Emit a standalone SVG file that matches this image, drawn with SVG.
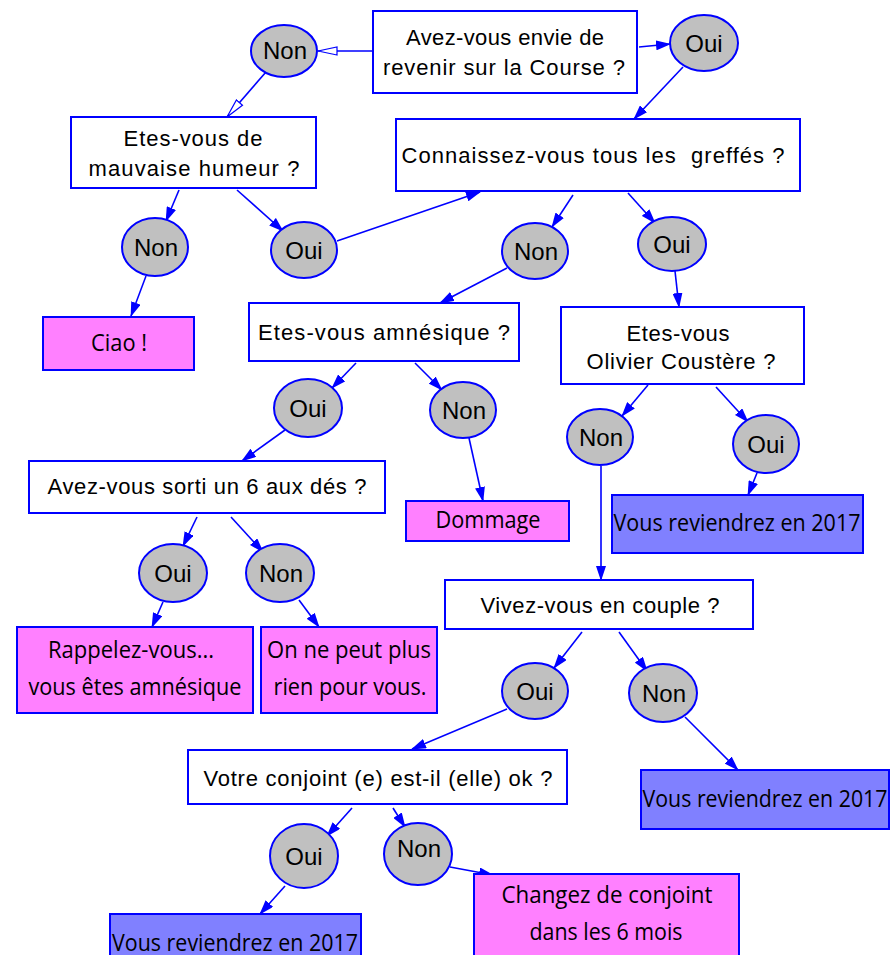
<svg xmlns="http://www.w3.org/2000/svg" width="890" height="955" viewBox="0 0 890 955">
<defs>
<marker id="ah" markerUnits="userSpaceOnUse" markerWidth="15" markerHeight="10" refX="14" refY="5" orient="auto">
<path d="M0,0 L15,5 L0,10 z" fill="#0000FF"/>
</marker>
<marker id="ao" markerUnits="userSpaceOnUse" markerWidth="22" markerHeight="12" refX="20" refY="5" orient="auto">
<path d="M1,1 L20,5 L1,9 z" fill="#FFFFFF" stroke="#0000FF" stroke-width="1.2"/>
</marker>
<style>
.q rect{fill:#FFFFFF;stroke:#0000FF;stroke-width:2}
.p rect{fill:#FF80FF;stroke:#0000FF;stroke-width:2}
.b rect{fill:#8080FF;stroke:#0000FF;stroke-width:2}
ellipse{fill:#C0C0C0;stroke:#0000FF;stroke-width:2}
text{fill:#000000;text-anchor:middle}
.q text,.e text{font-family:"Liberation Sans",Arial,sans-serif;font-size:22px}
.e text{font-size:24px}
.p text,.b text{font-family:"Open Sans","Noto Sans",sans-serif;font-size:23px}
#edges line{stroke:#0000FF;stroke-width:1.6;fill:none}
</style>
</defs>
<rect x="0" y="0" width="890" height="955" fill="#FFFFFF"/>
<g id="edges">
<line x1="373" y1="51" x2="318" y2="51" marker-end="url(#ao)"/>
<line x1="639" y1="47" x2="670" y2="44" marker-end="url(#ah)"/>
<line x1="266" y1="72" x2="227" y2="117" marker-end="url(#ao)"/>
<line x1="683" y1="67" x2="634" y2="119" marker-end="url(#ah)"/>
<line x1="179" y1="190" x2="166" y2="221" marker-end="url(#ah)"/>
<line x1="237" y1="190" x2="283" y2="231" marker-end="url(#ah)"/>
<line x1="337" y1="241" x2="480" y2="192" marker-end="url(#ah)"/>
<line x1="573" y1="195" x2="552" y2="227" marker-end="url(#ah)"/>
<line x1="628" y1="193" x2="655" y2="223" marker-end="url(#ah)"/>
<line x1="146" y1="276" x2="131" y2="316" marker-end="url(#ah)"/>
<line x1="507" y1="268" x2="440" y2="303" marker-end="url(#ah)"/>
<line x1="675" y1="271" x2="679" y2="307" marker-end="url(#ah)"/>
<line x1="356" y1="363" x2="332" y2="388" marker-end="url(#ah)"/>
<line x1="415" y1="363" x2="442" y2="390" marker-end="url(#ah)"/>
<line x1="285" y1="430" x2="242" y2="461" marker-end="url(#ah)"/>
<line x1="469" y1="438" x2="483" y2="501" marker-end="url(#ah)"/>
<line x1="648" y1="385" x2="622" y2="416" marker-end="url(#ah)"/>
<line x1="716" y1="387" x2="748" y2="422" marker-end="url(#ah)"/>
<line x1="757" y1="473" x2="748" y2="495" marker-end="url(#ah)"/>
<line x1="601" y1="466" x2="601" y2="580" marker-end="url(#ah)"/>
<line x1="197" y1="517" x2="183" y2="546" marker-end="url(#ah)"/>
<line x1="231" y1="517" x2="263" y2="552" marker-end="url(#ah)"/>
<line x1="163" y1="602" x2="152" y2="627" marker-end="url(#ah)"/>
<line x1="299" y1="600" x2="319" y2="627" marker-end="url(#ah)"/>
<line x1="582" y1="632" x2="554" y2="668" marker-end="url(#ah)"/>
<line x1="619" y1="632" x2="647" y2="671" marker-end="url(#ah)"/>
<line x1="507" y1="709" x2="412" y2="749" marker-end="url(#ah)"/>
<line x1="685" y1="717" x2="738" y2="770" marker-end="url(#ah)"/>
<line x1="352" y1="808" x2="327" y2="836" marker-end="url(#ah)"/>
<line x1="393" y1="808" x2="405" y2="827" marker-end="url(#ah)"/>
<line x1="285" y1="886" x2="260" y2="914" marker-end="url(#ah)"/>
<line x1="450" y1="867" x2="493" y2="875" marker-end="url(#ah)"/>
</g>
<g id="q1" class="q"><rect x="373" y="11" width="264" height="82"/><text x="505" y="45" textLength="198" lengthAdjust="spacing">Avez-vous envie de</text><text x="504" y="75" textLength="242" lengthAdjust="spacing">revenir sur la Course ?</text></g>
<g id="q2" class="q"><rect x="396" y="119" width="404" height="72"/><text x="593" y="163" textLength="383" lengthAdjust="spacing" xml:space="preserve">Connaissez-vous tous les  greffés ?</text></g>
<g id="q3" class="q"><rect x="71" y="117" width="245" height="71"/><text x="193" y="146" textLength="139" lengthAdjust="spacing">Etes-vous de</text><text x="194" y="176" textLength="211" lengthAdjust="spacing">mauvaise humeur ?</text></g>
<g id="q4" class="q"><rect x="249" y="303" width="270" height="58"/><text x="384" y="340" textLength="252" lengthAdjust="spacing">Etes-vous amnésique ?</text></g>
<g id="q5" class="q"><rect x="29" y="461" width="356" height="52"/><text x="207" y="494" textLength="319" lengthAdjust="spacing">Avez-vous sorti un 6 aux dés ?</text></g>
<g id="q6" class="q"><rect x="561" y="307" width="243" height="77"/><text x="678" y="341" textLength="103" lengthAdjust="spacing">Etes-vous</text><text x="681" y="369" textLength="189" lengthAdjust="spacing">Olivier Coustère ?</text></g>
<g id="q7" class="q"><rect x="445" y="580" width="308" height="49"/><text x="600" y="613" textLength="239" lengthAdjust="spacing">Vivez-vous en couple ?</text></g>
<g id="q8" class="q"><rect x="188" y="750" width="379" height="54"/><text x="378" y="786" textLength="349" lengthAdjust="spacing">Votre conjoint (e) est-il (elle) ok ?</text></g>
<g id="t1" class="p"><rect x="43" y="317" width="151" height="53"/><text x="119" y="351" textLength="56" lengthAdjust="spacingAndGlyphs">Ciao !</text></g>
<g id="t2" class="p"><rect x="406" y="501" width="163" height="40"/><text x="488" y="528" textLength="105" lengthAdjust="spacingAndGlyphs">Dommage</text></g>
<g id="t3" class="b"><rect x="612" y="495" width="251" height="58"/><text x="737" y="531" textLength="247" lengthAdjust="spacingAndGlyphs">Vous reviendrez en 2017</text></g>
<g id="t4" class="p"><rect x="17" y="627" width="236" height="86"/><text x="131" y="658" textLength="166" lengthAdjust="spacingAndGlyphs">Rappelez-vous...</text><text x="135" y="695" textLength="213" lengthAdjust="spacingAndGlyphs">vous êtes amnésique</text></g>
<g id="t5" class="p"><rect x="261" y="627" width="176" height="86"/><text x="349" y="658" textLength="164" lengthAdjust="spacingAndGlyphs">On ne peut plus</text><text x="350" y="695" textLength="153" lengthAdjust="spacingAndGlyphs">rien pour vous.</text></g>
<g id="t6" class="b"><rect x="641" y="770" width="248" height="59"/><text x="765" y="807" textLength="245" lengthAdjust="spacingAndGlyphs">Vous reviendrez en 2017</text></g>
<g id="t7" class="b"><rect x="110" y="914" width="251" height="58"/><text x="235" y="951" textLength="246" lengthAdjust="spacingAndGlyphs">Vous reviendrez en 2017</text></g>
<g id="t8" class="p"><rect x="474" y="874" width="265" height="90"/><text x="607" y="903" textLength="211" lengthAdjust="spacingAndGlyphs">Changez de conjoint</text><text x="606" y="940" textLength="153" lengthAdjust="spacingAndGlyphs">dans les 6 mois</text></g>
<g id="n1" class="e"><ellipse cx="284" cy="51" rx="33" ry="26"/><text x="285" y="59">Non</text></g>
<g id="o1" class="e"><ellipse cx="704" cy="43" rx="34" ry="28"/><text x="704" y="52">Oui</text></g>
<g id="n2" class="e"><ellipse cx="155" cy="247" rx="33" ry="29"/><text x="156" y="256">Non</text></g>
<g id="o2" class="e"><ellipse cx="304" cy="250" rx="33" ry="28"/><text x="304" y="259">Oui</text></g>
<g id="n3" class="e"><ellipse cx="535" cy="251" rx="33" ry="28"/><text x="536" y="260">Non</text></g>
<g id="o3" class="e"><ellipse cx="672" cy="244" rx="34" ry="27"/><text x="672" y="253">Oui</text></g>
<g id="o4" class="e"><ellipse cx="308" cy="408" rx="34" ry="29"/><text x="308" y="417">Oui</text></g>
<g id="n4" class="e"><ellipse cx="463" cy="410" rx="33" ry="28"/><text x="464" y="419">Non</text></g>
<g id="n5" class="e"><ellipse cx="600" cy="437" rx="33" ry="28"/><text x="601" y="446">Non</text></g>
<g id="o5" class="e"><ellipse cx="766" cy="444" rx="33" ry="29"/><text x="766" y="453">Oui</text></g>
<g id="o6" class="e"><ellipse cx="173" cy="573" rx="34" ry="29"/><text x="173" y="582">Oui</text></g>
<g id="n6" class="e"><ellipse cx="280" cy="573" rx="34" ry="29"/><text x="281" y="582">Non</text></g>
<g id="o7" class="e"><ellipse cx="535" cy="691" rx="33" ry="28"/><text x="535" y="700">Oui</text></g>
<g id="n7" class="e"><ellipse cx="663" cy="693" rx="34" ry="29"/><text x="664" y="702">Non</text></g>
<g id="o8" class="e"><ellipse cx="304" cy="856" rx="34" ry="32"/><text x="304" y="865">Oui</text></g>
<g id="n8" class="e"><ellipse cx="418" cy="854" rx="34" ry="31"/><text x="419" y="857">Non</text></g>
</svg>
